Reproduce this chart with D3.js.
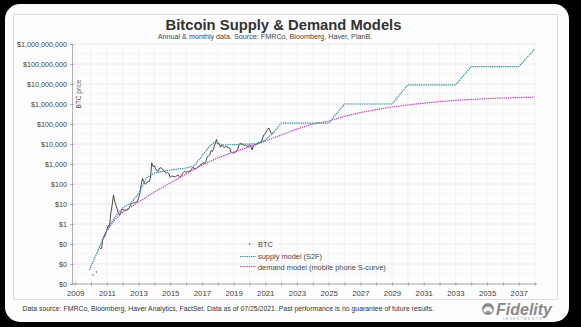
<!DOCTYPE html>
<html>
<head>
<meta charset="utf-8">
<script src="https://cdn.jsdelivr.net/npm/d3@7"></script>
<style>
body{margin:0;background:#000;}
svg{display:block;font-family:"Liberation Sans",Arial,sans-serif;}
</style>
</head>
<body>
<svg id="drawing_region"></svg>
<script>
// ---- data ----
const yTicks = [1e-3, 1e-2, 1e-1, 1, 10, 100, 1e3, 1e4, 1e5, 1e6, 1e7, 1e8, 1e9];
const xTickYears = d3.range(2009, 2039);
const xLabelYears = d3.range(2009, 2038, 2);

// BTC monthly, starting July 2010
const btcStart = 2010.5;
const btcPrices = [
  0.07, 0.06, 0.06, 0.19, 0.21, 0.30,
  0.52, 0.86, 0.79, 3.5, 8.7, 28, 13.4, 8.2, 5.1, 3.2, 3.0, 4.7,
  5.5, 4.9, 4.9, 5.0, 5.2, 6.7, 9.4, 10.2, 12.4, 11.2, 12.6, 13.5,
  20.4, 33.4, 93, 190, 129, 97, 106, 135, 133, 198, 1150, 750,
  830, 570, 450, 450, 630, 640, 585, 480, 388, 338, 378, 320,
  217, 254, 244, 236, 230, 263, 284, 231, 236, 314, 378, 430,
  369, 437, 416, 448, 531, 673, 624, 575, 609, 699, 742, 964,
  970, 1190, 1080, 1350, 2300, 2480, 2880, 4700, 4340, 6470, 9950, 17000,
  10200, 10400, 6970, 9240, 7490, 6400, 7730, 7020, 6630, 6320, 4020, 3740,
  3460, 3820, 4100, 5350, 8570, 11000, 10100, 9630, 8290, 9200, 7570, 7190,
  9350, 8600, 5000, 8660, 9460, 9140, 11350, 11680, 10780, 13800, 19700, 29000,
  33100, 45100, 58900, 60000, 37300, 35000, 35400
];
const btcEarlyYears = [2010.13, 2010.35];
const btcEarlyPrices = [0.0028, 0.004];

const supplyYears = [2009.9, 2010.5, 2011.0, 2011.5, 2012.0, 2012.5, 2013.0, 2013.5, 2014.0, 2015.0,
  2016.0, 2016.5, 2017.0, 2017.5, 2017.8, 2018.3, 2019.0, 2020.0, 2020.5, 2021.0, 2021.5, 2022,
  2025, 2026, 2029, 2030, 2033, 2034, 2037, 2038];
const supplyValues = [0.005, 0.06, 0.5, 2.2, 6.3, 11, 32, 200, 355, 500,
  630, 800, 2500, 8000, 12500, 9000, 9300, 10000, 10500, 16000, 35000, 110000,
  110000, 1000000, 1000000, 9000000, 9000000, 74000000, 74000000, 560000000];

const demandYears = [2010.75, 2011, 2011.5, 2012, 2012.5, 2013, 2013.5, 2014, 2015, 2016, 2017, 2018,
  2019, 2020, 2021, 2022, 2023, 2024, 2025, 2026, 2027, 2028, 2029, 2030, 2031, 2032,
  2033, 2034, 2035, 2036, 2037, 2038];
const demandValues = [0.22, 0.45, 1.6, 4, 7, 12.6, 22, 40, 112, 316, 890, 2000,
  4000, 7100, 14000, 28000, 56000, 100000, 141000, 240000, 370000, 525000, 710000, 890000, 1100000, 1320000,
  1510000, 1700000, 1860000, 2000000, 2090000, 2190000];

const legendLabels = ["BTC", "supply model (S2F)", "demand model (mobile phone S-curve)"];

class SupplyDemandChart {
  constructor(config) {
    this.config = config;
    this.init();
  }
  init() {
    let self = this;
    const c = self.config;
    self.svg = d3.select(c.parent).attr('width', c.width).attr('height', c.height);

    // card + inner panel
    self.svg.append('rect').attr('width', c.width).attr('height', c.height).attr('fill', '#000');
    self.svg.append('rect').attr('x', 5).attr('y', 4).attr('width', 564).attr('height', 318)
      .attr('rx', 15).attr('fill', '#fdfdfd');
    self.svg.append('rect').attr('x', 13.5).attr('y', 14.5).attr('width', 544).attr('height', 285)
      .attr('fill', 'none').attr('stroke', '#d6d6d6').attr('stroke-width', 0.8);

    self.xscale = d3.scaleLinear().domain([2008.8, 2038.15]).range([72, 537]);
    self.yscale = d3.scaleLog().domain([1e-3, 1e9]).range([284, 44]);
  }
  render() {
    let self = this;
    const x = self.xscale, y = self.yscale;
    const chart = self.svg.append('g');

    // gridlines
    chart.append('g').selectAll('line').data(yTicks).join('line')
      .attr('x1', 72).attr('x2', 537)
      .attr('y1', d => y(d)).attr('y2', d => y(d))
      .attr('stroke', '#e2e2e2').attr('stroke-width', 0.7);
    chart.append('g').selectAll('line').data(yTicks.slice(0, -1)).join('line')
      .attr('x1', 72).attr('x2', 537)
      .attr('y1', d => y(d * Math.sqrt(10))).attr('y2', d => y(d * Math.sqrt(10)))
      .attr('stroke', '#f0f0f0').attr('stroke-width', 0.6);
    chart.append('g').selectAll('line').data(xTickYears).join('line')
      .attr('x1', d => x(d)).attr('x2', d => x(d))
      .attr('y1', 44).attr('y2', 284)
      .attr('stroke', '#eaeaea').attr('stroke-width', 0.6);

    // axes
    const yaxis = d3.axisLeft(y).tickValues(yTicks)
      .tickFormat(d => d < 1 ? '$0' : '$' + d3.format(',')(d))
      .tickSize(2).tickPadding(3);
    const yg = chart.append('g').attr('transform', 'translate(72,0)').call(yaxis);
    const xaxis = d3.axisBottom(x).tickValues(xTickYears)
      .tickFormat(d => xLabelYears.includes(d) ? d : '')
      .tickSize(2).tickPadding(4).tickSizeOuter(0);
    const xg = chart.append('g').attr('transform', 'translate(0,284)').call(xaxis);
    xg.select('.domain').attr('d', 'M72,0H537');
    yg.selectAll('.tick line').attr('x1', 2);
    xg.selectAll('.tick line').attr('y1', -2);
    [xg, yg].forEach(g => {
      g.select('.domain').attr('stroke', '#9a9a9a').attr('stroke-width', 0.8);
      g.selectAll('.tick line').attr('stroke', '#9a9a9a').attr('stroke-width', 0.7);
      g.selectAll('text').attr('fill', '#3f3f3f').style('font-size', '7.2px');
    });
    xg.selectAll('text').style('font-size', '7.8px');

    chart.append('text').attr('transform', 'translate(80.5,94) rotate(-90)')
      .attr('text-anchor', 'middle').attr('fill', '#555').style('font-size', '6.5px').text('BTC price');

    // series
    const line = d3.line().x(d => x(d[0])).y(d => y(d[1]));
    const btc = btcPrices.map((v, i) => [btcStart + i / 12, v]);
    const supply = supplyYears.map((t, i) => [t, supplyValues[i]]);
    const demand = demandYears.map((t, i) => [t, demandValues[i]]);

    chart.append('path').datum(btc).attr('d', line)
      .attr('fill', 'none').attr('stroke', '#363636').attr('stroke-width', 0.9);
    chart.append('g').selectAll('circle').data(btcEarlyYears).join('circle')
      .attr('cx', d => x(d)).attr('cy', (d, i) => y(btcEarlyPrices[i])).attr('r', 0.7)
      .attr('fill', '#555');
    chart.append('path').datum(demand).attr('d', line)
      .attr('fill', 'none').attr('stroke', '#c543c9').attr('stroke-width', 1.2)
      .attr('stroke-dasharray', '1.4,0.8');
    chart.append('path').datum(supply).attr('d', line)
      .attr('fill', 'none').attr('stroke', '#3d8fa3').attr('stroke-width', 1.2)
      .attr('stroke-dasharray', '1.4,0.8');

    // legend
    const lg = chart.append('g');
    lg.append('circle').attr('cx', 249.5).attr('cy', 244).attr('r', 0.8).attr('fill', '#555');
    lg.append('line').attr('x1', 240).attr('x2', 256).attr('y1', 256.5).attr('y2', 256.5)
      .attr('stroke', '#3d8fa3').attr('stroke-width', 1.2).attr('stroke-dasharray', '1.4,0.8');
    lg.append('line').attr('x1', 240).attr('x2', 256).attr('y1', 266.5).attr('y2', 266.5)
      .attr('stroke', '#c543c9').attr('stroke-width', 1.2).attr('stroke-dasharray', '1.4,0.8');
    lg.selectAll('text').data(legendLabels).join('text')
      .attr('x', 258).attr('y', (d, i) => [246.5, 259, 269.5][i])
      .attr('fill', '#444').style('font-size', '7.4px').text(d => d);

    // titles
    self.svg.append('text').attr('x', 283.5).attr('y', 30).attr('text-anchor', 'middle')
      .attr('fill', '#333').style('font-size', '14.8px').style('font-weight', 'bold')
      .text('Bitcoin Supply & Demand Models');
    self.svg.append('text').attr('x', 265).attr('y', 38.5).attr('text-anchor', 'middle')
      .attr('fill', '#444').style('font-size', '7.2px')
      .text('Annual & monthly data.  Source: FMRCo, Bloomberg, Haver, PlanB.');

    // footnote
    self.svg.append('text').attr('x', 22.5).attr('y', 311).attr('fill', '#333')
      .style('font-size', '6.9px')
      .text('Data source: FMRCo, Bloomberg, Haver Analytics, FactSet. Data as of 07/25/2021. Past performance is no guarantee of future results.');

    // logo
    const logo = self.svg.append('g');
    logo.append('circle').attr('cx', 488).attr('cy', 309).attr('r', 6).attr('fill', '#8d8d8d');
    logo.append('path').attr('d', 'M483,310 Q488,303 493,310 L491,313 Q488,308 485,313 Z').attr('fill', '#fdfdfd');
    logo.append('text').attr('x', 496).attr('y', 314.5).attr('fill', '#8a8a8a')
      .style('font-size', '16px').style('font-weight', 'bold').style('font-style', 'italic')
      .text('Fidelity');
    logo.append('text').attr('x', 503).attr('y', 320).attr('fill', '#999')
      .style('font-size', '3.2px').style('letter-spacing', '1.6px').text('INVESTMENTS');
  }
}

const chart = new SupplyDemandChart({
  parent: '#drawing_region',
  width: 581,
  height: 327
});
chart.render();
</script>
</body>
</html>
